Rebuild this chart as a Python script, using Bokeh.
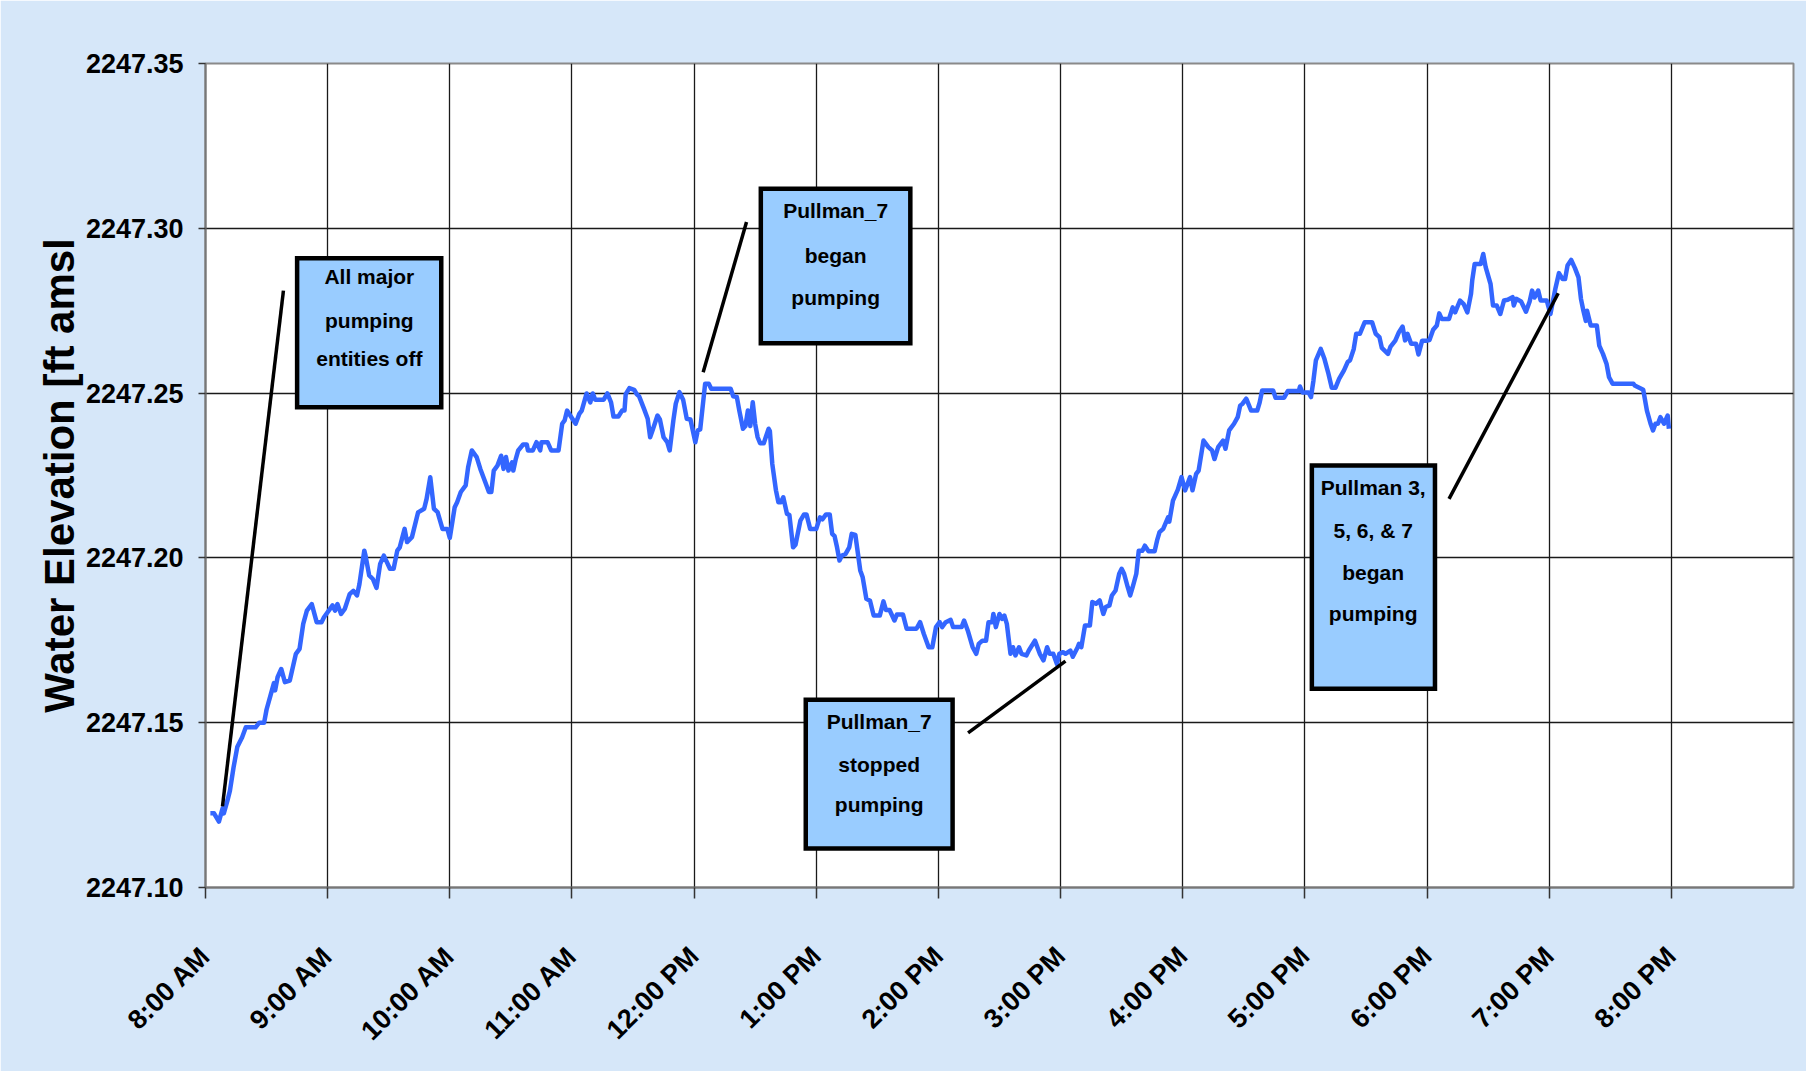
import math
from bokeh.plotting import figure
from bokeh.models import FixedTicker, PrintfTickFormatter, Range1d
from bokeh.core.properties import value
from bokeh.embed import file_html
from bokeh.resources import INLINE

# ---------------- data ----------------
hours = [
    8.04, 8.07, 8.11, 8.14, 8.15, 8.18, 8.20, 8.23, 8.26, 8.30, 8.33, 8.41, 8.44, 8.48, 8.50, 8.53,
    8.56, 8.57, 8.59, 8.62, 8.65, 8.69, 8.74, 8.77, 8.80, 8.83, 8.87, 8.91, 8.95, 8.97, 9.04, 9.06,
    9.08, 9.11, 9.14, 9.18, 9.21, 9.24, 9.26, 9.30, 9.31, 9.34, 9.37, 9.40, 9.43, 9.46, 9.51, 9.54,
    9.57, 9.59, 9.63, 9.65, 9.69, 9.74, 9.79, 9.81, 9.84, 9.87, 9.90, 9.94, 9.98, 10.00, 10.04, 10.06,
    10.09, 10.13, 10.15, 10.18, 10.22, 10.25, 10.29, 10.32, 10.34, 10.36, 10.39, 10.42, 10.44, 10.46,
    10.48, 10.51, 10.52, 10.54, 10.56, 10.60, 10.63, 10.64, 10.68, 10.71, 10.74, 10.75, 10.80, 10.83,
    10.89, 10.92, 10.94, 10.96, 10.99, 11.03, 11.06, 11.08, 11.12, 11.15, 11.17, 11.19, 11.26, 11.29,
    11.32, 11.34, 11.38, 11.41, 11.43, 11.44, 11.47, 11.51, 11.53, 11.55, 11.59, 11.62, 11.64, 11.66,
    11.70, 11.72, 11.75, 11.78, 11.80, 11.83, 11.85, 11.88, 11.91, 11.94, 11.97, 12.01, 12.03, 12.05,
    12.09, 12.12, 12.14, 12.30, 12.32, 12.35, 12.37, 12.40, 12.42, 12.44, 12.46, 12.48, 12.50, 12.52,
    12.54, 12.57, 12.61, 12.62, 12.64, 12.67, 12.69, 12.71, 12.73, 12.76, 12.78, 12.81, 12.83, 12.87,
    12.90, 12.92, 12.95, 13.00, 13.03, 13.05, 13.08, 13.11, 13.13, 13.15, 13.17, 13.19, 13.21, 13.24,
    13.27, 13.29, 13.32, 13.36, 13.38, 13.41, 13.44, 13.47, 13.52, 13.55, 13.57, 13.60, 13.64, 13.66,
    13.71, 13.74, 13.82, 13.85, 13.88, 13.92, 13.95, 13.98, 14.01, 14.03, 14.06, 14.10, 14.12, 14.19,
    14.21, 14.24, 14.28, 14.31, 14.33, 14.36, 14.39, 14.41, 14.44, 14.45, 14.47, 14.50, 14.52, 14.54,
    14.56, 14.59, 14.61, 14.63, 14.66, 14.68, 14.72, 14.74, 14.79, 14.83, 14.86, 14.89, 14.91, 14.94,
    14.97, 14.99, 15.02, 15.04, 15.08, 15.10, 15.14, 15.15, 15.17, 15.20, 15.24, 15.26, 15.29, 15.32,
    15.35, 15.37, 15.40, 15.42, 15.45, 15.48, 15.50, 15.52, 15.55, 15.57, 15.59, 15.62, 15.64, 15.67,
    15.69, 15.72, 15.77, 15.79, 15.81, 15.84, 15.88, 15.89, 15.92, 15.96, 15.99, 16.02, 16.06, 16.08,
    16.11, 16.13, 16.17, 16.21, 16.24, 16.26, 16.29, 16.31, 16.33, 16.35, 16.38, 16.42, 16.45, 16.47,
    16.49, 16.52, 16.56, 16.61, 16.63, 16.65, 16.74, 16.76, 16.83, 16.86, 16.95, 16.96, 16.98, 17.03,
    17.05, 17.07, 17.09, 17.13, 17.16, 17.19, 17.22, 17.25, 17.28, 17.32, 17.35, 17.37, 17.40, 17.42,
    17.45, 17.49, 17.55, 17.58, 17.61, 17.63, 17.68, 17.70, 17.74, 17.77, 17.80, 17.82, 17.84, 17.87,
    17.91, 17.93, 17.96, 17.99, 18.02, 18.05, 18.08, 18.10, 18.12, 18.18, 18.21, 18.23, 18.27, 18.30,
    18.33, 18.36, 18.37, 18.39, 18.44, 18.46, 18.48, 18.52, 18.54, 18.57, 18.60, 18.63, 18.66, 18.70,
    18.71, 18.73, 18.77, 18.81, 18.84, 18.86, 18.88, 18.91, 18.93, 18.98, 19.01, 19.05, 19.08, 19.11,
    19.13, 19.15, 19.18, 19.21, 19.24, 19.26, 19.28, 19.30, 19.31, 19.34, 19.39, 19.41, 19.44, 19.47,
    19.49, 19.52, 19.69, 19.70, 19.77, 19.80, 19.83, 19.85, 19.87, 19.89, 19.91, 19.94, 19.97, 19.98,
]
elevation = [
    2247.1225, 2247.1225, 2247.1200, 2247.1240, 2247.1225, 2247.1264, 2247.1294, 2247.1365, 2247.1426, 2247.1456, 2247.1486, 2247.1486, 2247.1500, 2247.1500, 2247.1540, 2247.1580,
    2247.1620, 2247.1598, 2247.1638, 2247.1663, 2247.1623, 2247.1628, 2247.1709, 2247.1724, 2247.1800, 2247.1840, 2247.1860, 2247.1805, 2247.1805, 2247.1820, 2247.1856, 2247.1840,
    2247.1860, 2247.1830, 2247.1845, 2247.1890, 2247.1900, 2247.1886, 2247.1920, 2247.2022, 2247.2007, 2247.1947, 2247.1936, 2247.1909, 2247.1982, 2247.2007, 2247.1967, 2247.1967,
    2247.2022, 2247.2032, 2247.2088, 2247.2048, 2247.2063, 2247.2138, 2247.2149, 2247.2179, 2247.2245, 2247.2149, 2247.2139, 2247.2088, 2247.2088, 2247.2061, 2247.2154, 2247.2169,
    2247.2200, 2247.2220, 2247.2275, 2247.2326, 2247.2306, 2247.2270, 2247.2230, 2247.2200, 2247.2200, 2247.2265, 2247.2280, 2247.2310, 2247.2270, 2247.2306,
    2247.2265, 2247.2290, 2247.2265, 2247.2300, 2247.2326, 2247.2344, 2247.2344, 2247.2326, 2247.2326, 2247.2351, 2247.2326, 2247.2351, 2247.2351, 2247.2326,
    2247.2326, 2247.2407, 2247.2417, 2247.2447, 2247.2430, 2247.2407, 2247.2437, 2247.2447, 2247.2499, 2247.2472, 2247.2499, 2247.2480, 2247.2480, 2247.2499,
    2247.2472, 2247.2429, 2247.2429, 2247.2447, 2247.2447, 2247.2497, 2247.2515, 2247.2510, 2247.2497, 2247.2490, 2247.2452, 2247.2422, 2247.2366, 2247.2387,
    2247.2432, 2247.2420, 2247.2366, 2247.2351, 2247.2326, 2247.2417, 2247.2468, 2247.2503, 2247.2480, 2247.2422, 2247.2420, 2247.2351, 2247.2387, 2247.2390,
    2247.2528, 2247.2528, 2247.2513, 2247.2513, 2247.2490, 2247.2488, 2247.2447, 2247.2392, 2247.2400, 2247.2447, 2247.2400, 2247.2472, 2247.2406, 2247.2366,
    2247.2348, 2247.2348, 2247.2392, 2247.2385, 2247.2285, 2247.2205, 2247.2169, 2247.2169, 2247.2184, 2247.2134, 2247.2130, 2247.2032, 2247.2040, 2247.2113,
    2247.2132, 2247.2132, 2247.2088, 2247.2088, 2247.2123, 2247.2117, 2247.2132, 2247.2132, 2247.2073, 2247.2066, 2247.2032, 2247.1992, 2247.2007, 2247.2012,
    2247.2032, 2247.2073, 2247.2070, 2247.1962, 2247.1941, 2247.1876, 2247.1870, 2247.1825, 2247.1825, 2247.1868, 2247.1842, 2247.1842, 2247.1810, 2247.1828,
    2247.1828, 2247.1785, 2247.1785, 2247.1805, 2247.1770, 2247.1729, 2247.1729, 2247.1790, 2247.1805, 2247.1790, 2247.1805, 2247.1812, 2247.1790, 2247.1790,
    2247.1810, 2247.1780, 2247.1729, 2247.1709, 2247.1739, 2247.1749, 2247.1749, 2247.1805, 2247.1805, 2247.1830, 2247.1790, 2247.1830, 2247.1815, 2247.1825,
    2247.1800, 2247.1709, 2247.1729, 2247.1704, 2247.1729, 2247.1709, 2247.1704, 2247.1719, 2247.1749, 2247.1709, 2247.1689, 2247.1729, 2247.1709, 2247.1709,
    2247.1678, 2247.1709, 2247.1714, 2247.1709, 2247.1719, 2247.1700, 2247.1729, 2247.1739, 2247.1729, 2247.1795, 2247.1795, 2247.1866, 2247.1861, 2247.1871,
    2247.1830, 2247.1851, 2247.1856, 2247.1886, 2247.1901, 2247.1952, 2247.1967, 2247.1952, 2247.1911, 2247.1886, 2247.1911, 2247.1952, 2247.2022, 2247.2022,
    2247.2037, 2247.2020, 2247.2020, 2247.2053, 2247.2078, 2247.2088, 2247.2123, 2247.2110, 2247.2174, 2247.2207, 2247.2245, 2247.2205, 2247.2245, 2247.2205,
    2247.2255, 2247.2265, 2247.2356, 2247.2336, 2247.2326, 2247.2300, 2247.2336, 2247.2346, 2247.2356, 2247.2331, 2247.2387, 2247.2407, 2247.2427, 2247.2462,
    2247.2468, 2247.2483, 2247.2447, 2247.2447, 2247.2472, 2247.2508, 2247.2508, 2247.2486, 2247.2486, 2247.2506, 2247.2506, 2247.2520, 2247.2502, 2247.2502,
    2247.2488, 2247.2538, 2247.2599, 2247.2634, 2247.2604, 2247.2563, 2247.2516, 2247.2516, 2247.2543, 2247.2569, 2247.2594, 2247.2600, 2247.2634, 2247.2680,
    2247.2680, 2247.2715, 2247.2715, 2247.2680, 2247.2670, 2247.2637, 2247.2619, 2247.2640, 2247.2659, 2247.2685, 2247.2702, 2247.2660, 2247.2680, 2247.2650,
    2247.2650, 2247.2617, 2247.2659, 2247.2659, 2247.2661, 2247.2692, 2247.2705, 2247.2742, 2247.2725, 2247.2725, 2247.2760, 2247.2745, 2247.2781, 2247.2770,
    2247.2745, 2247.2801, 2247.2842, 2247.2892, 2247.2892, 2247.2922, 2247.2882, 2247.2831, 2247.2766, 2247.2766, 2247.2740, 2247.2781, 2247.2783, 2247.2791,
    2247.2766, 2247.2786, 2247.2778, 2247.2747, 2247.2778, 2247.2811, 2247.2790, 2247.2811, 2247.2781, 2247.2781, 2247.2740, 2247.2816, 2247.2864, 2247.2846,
    2247.2846, 2247.2887, 2247.2904, 2247.2880, 2247.2851, 2247.2786, 2247.2750, 2247.2719, 2247.2750, 2247.2705, 2247.2705, 2247.2644, 2247.2619, 2247.2588,
    2247.2548, 2247.2528, 2247.2528, 2247.2523, 2247.2510, 2247.2447, 2247.2407, 2247.2387, 2247.2407, 2247.2407, 2247.2427, 2247.2407, 2247.2432, 2247.2392,
]

x_ticks = [8, 9, 10, 11, 12, 13, 14, 15, 16, 17, 18, 19, 20]
x_tick_labels = ["8:00 AM", "9:00 AM", "10:00 AM", "11:00 AM", "12:00 PM", "1:00 PM", "2:00 PM",
                 "3:00 PM", "4:00 PM", "5:00 PM", "6:00 PM", "7:00 PM", "8:00 PM"]
y_ticks = [2247.10, 2247.15, 2247.20, 2247.25, 2247.30, 2247.35]

# annotation texts (callout boxes)
notes = [
    ["All major", "pumping", "entities off"],
    ["Pullman_7", "began", "pumping"],
    ["Pullman_7", "stopped", "pumping"],
    ["Pullman 3,", "5, 6, & 7", "began", "pumping"],
]

# ---------------- styling / layout ----------------
FONT = "'Liberation Sans', Arial, sans-serif"
BG = "#d6e7f9"
LINE = "#3366ff"
BOXFILL = "#99ccff"

p = figure(width=1806, height=1071, output_backend="svg", toolbar_location=None,
           x_range=Range1d(8, 21), y_range=Range1d(2247.10, 2247.35),
           min_border_left=205, min_border_right=13, min_border_top=63, min_border_bottom=184)
p.background_fill_color = "white"
p.border_fill_color = BG
p.outline_line_color = "#8a8a8a"
p.outline_line_width = 2

# axes
p.xaxis.ticker = FixedTicker(ticks=x_ticks)
p.xaxis.major_label_overrides = {t: lab for t, lab in zip(x_ticks, x_tick_labels)}
p.xaxis.major_label_orientation = math.pi / 4
p.yaxis.ticker = FixedTicker(ticks=y_ticks)
p.yaxis.formatter = PrintfTickFormatter(format="%.2f")
for ax in (p.xaxis[0], p.yaxis[0]):
    ax.axis_line_color = "#777777"
    ax.axis_line_width = 2
    ax.major_tick_line_color = "#333333"
    ax.major_tick_line_width = 1.5
    ax.major_tick_in = 0
    ax.minor_tick_line_color = None
    ax.major_label_text_font = FONT
    ax.major_label_text_font_style = "bold"
    ax.major_label_text_color = "black"
p.xaxis.major_tick_out = 11
p.xaxis.major_label_text_font_size = "27px"
p.xaxis.major_label_standoff = 53
p.yaxis.major_tick_out = 7
p.yaxis.major_label_text_font_size = "27px"
p.yaxis.major_label_standoff = 15
p.yaxis.axis_label = "Water Elevation [ft amsl"
p.yaxis.axis_label_text_font = FONT
p.yaxis.axis_label_text_font_style = "bold"
p.yaxis.axis_label_text_font_size = "42px"
p.yaxis.axis_label_text_color = "black"
p.yaxis.axis_label_standoff = 0

# grids
p.xgrid.ticker = FixedTicker(ticks=x_ticks)
p.ygrid.ticker = FixedTicker(ticks=y_ticks)
for g in (p.xgrid[0], p.ygrid[0]):
    g.grid_line_color = "#1a1a1a"
    g.grid_line_width = 1.3

# data line
p.line(hours, elevation, line_color=LINE, line_width=4.5, line_join="round")

# callouts: leader lines
lead_x = [[8.638, 8.139], [12.429, 12.074], [14.243, 15.040], [18.180, 19.074]]
lead_y = [[2247.2811, 2247.1246], [2247.3019, 2247.2563], [2247.1469, 2247.1687], [2247.2179, 2247.2803]]
p.multi_line(lead_x, lead_y, line_color="black", line_width=3.5)

# callouts: boxes
box_l = [8.750, 12.546, 12.914, 17.057]
box_r = [9.930, 13.770, 14.116, 18.065]
box_t = [2247.2909, 2247.3120, 2247.1570, 2247.2280]
box_b = [2247.2457, 2247.2651, 2247.1118, 2247.1603]
p.quad(left=box_l, right=box_r, top=box_t, bottom=box_b, fill_color=BOXFILL,
       line_color="black", line_width=4.5, line_join="miter")

# callouts: texts
text_cx = [9.341, 13.159, 13.515, 17.559]
text_y = [
    [2247.2853, 2247.2720, 2247.2604],
    [2247.3054, 2247.2918, 2247.2791],
    [2247.1504, 2247.1373, 2247.1252],
    [2247.2215, 2247.2083, 2247.1957, 2247.1830],
]
tx, ty, tt = [], [], []
for cx, ys, lines in zip(text_cx, text_y, notes):
    for yy, s in zip(ys, lines):
        tx.append(cx)
        ty.append(yy)
        tt.append(s)
p.text(x=tx, y=ty, text=tt, text_font=value(FONT), text_font_style="bold",
       text_font_size="21px", text_align="center", text_baseline="middle", text_color="black")

open("out.html", "w").write(file_html(p, INLINE))
